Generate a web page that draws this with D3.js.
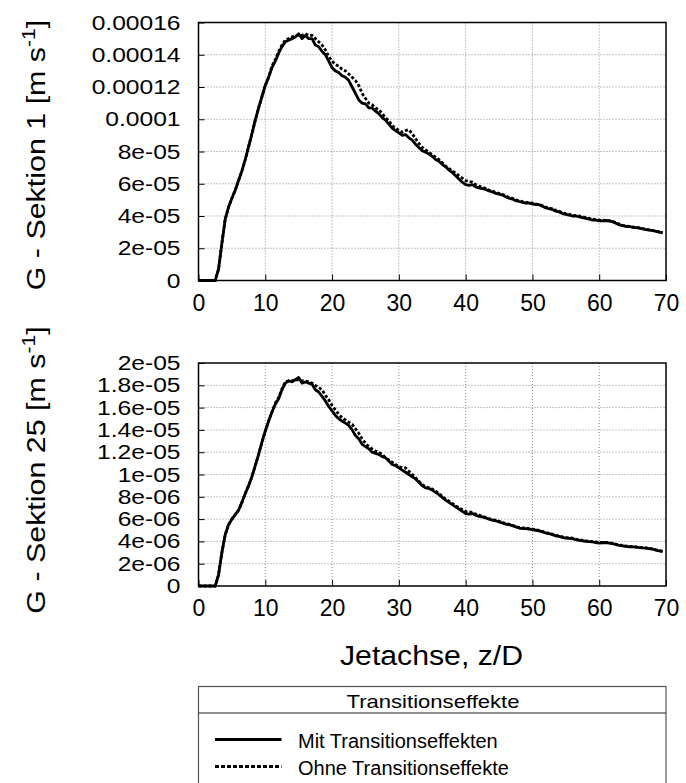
<!DOCTYPE html>
<html>
<head>
<meta charset="utf-8">
<script src="https://cdn.jsdelivr.net/npm/d3@7"></script>
<style>
  body { margin: 0; background: #fff; }
  text { font-family: "Liberation Sans", Arial, sans-serif; fill: #000; }
</style>
</head>
<body>
<svg id="chart" width="686" height="783"></svg>
<script>
// z/D Stuetzstellen, Schritt 0.5
var zD = d3.range(0, 70, 0.5);

// Sektion 1, Werte in 1e-5 m/s
var sek1Mit = [
  0, 0, 0, 0, 0, 0, 0.7, 2.3, 3.8, 4.55, 5.1, 5.6, 6.2, 6.8, 7.5, 8.3, 9.1, 9.95, 10.7, 11.4,
  12.1, 12.6, 13.2, 13.6, 14.1, 14.5, 14.8, 14.9, 15.0, 15.1, 15.3, 15.0, 15.2, 15.0, 15.0, 14.6, 14.5, 14.2, 14.0, 13.6,
  13.2, 13.0, 12.9, 12.7, 12.6, 12.4, 12.0, 11.6, 11.2, 11.0, 10.95, 10.7, 10.7, 10.5, 10.35, 10.1, 9.95, 9.7, 9.45, 9.3,
  9.15, 9.0, 9.05, 8.85, 8.7, 8.45, 8.25, 8.05, 7.95, 7.85, 7.7, 7.5, 7.4, 7.2, 7.05, 6.85, 6.7, 6.5, 6.3, 6.1,
  5.95, 5.9, 5.95, 5.8, 5.75, 5.7, 5.65, 5.55, 5.5, 5.4, 5.35, 5.3, 5.2, 5.1, 5.05, 4.95, 4.9, 4.85, 4.8, 4.8,
  4.75, 4.7, 4.7, 4.6, 4.5, 4.45, 4.4, 4.3, 4.25, 4.15, 4.1, 4.05, 4.0, 4.0, 3.95, 3.9, 3.85, 3.8, 3.75, 3.75,
  3.7, 3.7, 3.72, 3.7, 3.65, 3.55, 3.45, 3.4, 3.35, 3.35, 3.3, 3.28, 3.25, 3.2, 3.15, 3.12, 3.1, 3.05, 3.0, 2.95];
var sek1Ohne = [
  0, 0, 0, 0, 0, 0, 0.7, 2.3, 3.8, 4.55, 5.1, 5.6, 6.2, 6.8, 7.5, 8.3, 9.1, 9.95, 10.7, 11.4,
  12.1, 12.6, 13.3, 13.7, 14.2, 14.6, 14.9, 15.0, 15.1, 15.2, 15.2, 15.2, 15.3, 15.2, 15.2, 15.0, 14.8, 14.6, 14.3, 13.9,
  13.6, 13.4, 13.3, 13.1, 13.0, 12.8, 12.6, 12.4, 12.1, 11.6, 11.3, 11.0, 10.9, 10.7, 10.6, 10.35, 10.1, 9.9, 9.6, 9.45,
  9.3, 9.2, 9.3, 9.35, 9.1, 8.8, 8.5, 8.25, 8.1, 7.95, 7.8, 7.65, 7.5, 7.3, 7.1, 6.95, 6.8, 6.65, 6.5, 6.35,
  6.2, 6.15, 6.1, 5.95, 5.85, 5.8, 5.7, 5.6, 5.55, 5.45, 5.4, 5.35, 5.25, 5.15, 5.1, 5.0, 4.95, 4.9, 4.85, 4.85,
  4.8, 4.75, 4.72, 4.65, 4.55, 4.5, 4.45, 4.35, 4.3, 4.2, 4.15, 4.1, 4.05, 4.02, 4.0, 3.95, 3.9, 3.85, 3.8, 3.78,
  3.75, 3.72, 3.72, 3.7, 3.65, 3.6, 3.5, 3.42, 3.38, 3.36, 3.32, 3.3, 3.26, 3.22, 3.18, 3.14, 3.1, 3.06, 3.02, 2.97];

// Sektion 25, Werte in 1e-6 m/s
var sek25Mit = [
  0, 0, 0, 0, 0, 0, 1.0, 3.0, 4.6, 5.5, 6.0, 6.4, 6.8, 7.5, 8.3, 9.0, 9.8, 10.8, 11.8, 12.9,
  13.9, 14.8, 15.6, 16.3, 16.8, 17.6, 18.2, 18.4, 18.3, 18.5, 18.7, 18.2, 18.3, 18.2, 18.1, 17.6, 17.4, 17.0, 16.6, 16.1,
  15.7, 15.3, 15.0, 14.8, 14.6, 14.4, 14.0, 13.5, 13.2, 12.7, 12.5, 12.3, 12.0, 11.9, 11.8, 11.6, 11.5, 11.2, 10.9, 10.8,
  10.6, 10.4, 10.2, 10.0, 9.8, 9.6, 9.3, 9.0, 8.8, 8.75, 8.6, 8.4, 8.2, 7.95, 7.7, 7.5, 7.3, 7.1, 6.9, 6.7,
  6.5, 6.45, 6.5, 6.35, 6.25, 6.2, 6.1, 6.0, 5.9, 5.85, 5.75, 5.65, 5.55, 5.5, 5.4, 5.3, 5.2, 5.15, 5.15, 5.1,
  5.05, 5.0, 4.95, 4.85, 4.75, 4.7, 4.6, 4.5, 4.45, 4.35, 4.3, 4.28, 4.25, 4.15, 4.1, 4.05, 4.0, 3.98, 3.95, 3.9,
  3.85, 3.88, 3.9, 3.85, 3.8, 3.72, 3.65, 3.6, 3.55, 3.52, 3.5, 3.48, 3.45, 3.42, 3.4, 3.35, 3.3, 3.22, 3.15, 3.08];
var sek25Ohne = [
  0, 0, 0, 0, 0, 0, 1.0, 3.0, 4.6, 5.5, 6.0, 6.4, 6.8, 7.5, 8.3, 9.0, 9.8, 10.8, 11.8, 12.9,
  13.9, 14.8, 15.6, 16.4, 16.9, 17.7, 18.3, 18.4, 18.4, 18.5, 18.5, 18.4, 18.4, 18.3, 18.2, 18.0, 17.8, 17.6, 17.1, 16.7,
  16.2, 15.8, 15.4, 15.1, 14.9, 14.7, 14.5, 14.1, 13.7, 13.2, 12.8, 12.5, 12.3, 12.1, 12.0, 11.8, 11.5, 11.3, 11.1, 10.9,
  10.7, 10.6, 10.6, 10.3, 10.0, 9.7, 9.4, 9.1, 8.9, 8.8, 8.7, 8.5, 8.3, 8.05, 7.8, 7.6, 7.4, 7.2, 7.0, 6.85,
  6.7, 6.65, 6.6, 6.45, 6.35, 6.25, 6.15, 6.05, 5.95, 5.9, 5.8, 5.7, 5.6, 5.55, 5.45, 5.35, 5.25, 5.2, 5.2, 5.15,
  5.1, 5.05, 5.0, 4.9, 4.8, 4.72, 4.65, 4.55, 4.5, 4.4, 4.35, 4.32, 4.3, 4.2, 4.15, 4.1, 4.05, 4.0, 3.98, 3.95,
  3.9, 3.9, 3.9, 3.87, 3.82, 3.75, 3.7, 3.63, 3.58, 3.55, 3.52, 3.5, 3.47, 3.44, 3.42, 3.38, 3.32, 3.25, 3.18, 3.12];

var xTicks = [0, 10, 20, 30, 40, 50, 60, 70];
var yTicks1 = [0, 2, 4, 6, 8, 10, 12, 14, 16];
var yLabels1 = ['0', '2e-05', '4e-05', '6e-05', '8e-05', '0.0001', '0.00012', '0.00014', '0.00016'];
var yTicks25 = [0, 2, 4, 6, 8, 10, 12, 14, 16, 18, 20];
var yLabels25 = ['0', '2e-06', '4e-06', '6e-06', '8e-06', '1e-05', '1.2e-05', '1.4e-05', '1.6e-05', '1.8e-05', '2e-05'];

var legendTitle = 'Transitionseffekte';
var seriesNames = ['Mit Transitionseffekten', 'Ohne Transitionseffekte'];

var svg = d3.select('#chart');
var left = 198.5, right = 666;

function drawPanel(cfg) {
  var x = d3.scaleLinear().domain([0, 70]).range([left, right]);
  var y = d3.scaleLinear().domain([0, cfg.ymax]).range([cfg.bottom, cfg.top]);
  var g = svg.append('g');

  // Gitter
  g.selectAll('line.gx').data(xTicks.slice(1, -1)).enter().append('line')
    .attr('x1', function (d) { return x(d); }).attr('x2', function (d) { return x(d); })
    .attr('y1', cfg.top).attr('y2', cfg.bottom)
    .attr('stroke', '#8a8a8a').attr('stroke-width', 1).attr('stroke-dasharray', '1,2');
  g.selectAll('line.gy').data(cfg.yTicks.slice(1, -1)).enter().append('line')
    .attr('x1', left).attr('x2', right)
    .attr('y1', function (d) { return y(d); }).attr('y2', function (d) { return y(d); })
    .attr('stroke', '#8a8a8a').attr('stroke-width', 1).attr('stroke-dasharray', '1,2');

  // Achsen
  var ax = g.append('g').attr('transform', 'translate(0,' + cfg.bottom + ')')
    .call(d3.axisBottom(x).tickValues(xTicks).tickSize(-6).tickPadding(14).tickFormat(d3.format('d')));
  ax.select('.domain').remove();
  ax.selectAll('text').attr('font-size', 23).attr('font-family', '"Liberation Sans", Arial, sans-serif');
  ax.selectAll('line').attr('stroke', '#000');

  var ay = g.append('g').attr('transform', 'translate(' + left + ',0)')
    .call(d3.axisLeft(y).tickValues(cfg.yTicks).tickSize(-6).tickPadding(15)
      .tickFormat(function (d, i) { return cfg.yLabels[i]; }));
  ay.select('.domain').remove();
  ay.selectAll('text').attr('font-size', 20.5).attr('font-family', '"Liberation Sans", Arial, sans-serif')
    .attr('x', -15).attr('transform', 'scale(1.2,1)');
  ay.selectAll('line').attr('stroke', '#000');

  // Kurven
  var line = d3.line()
    .x(function (d, i) { return x(zD[i]); })
    .y(function (d) { return y(d); });
  g.append('path').datum(cfg.ohne).attr('d', line)
    .attr('fill', 'none').attr('stroke', '#000').attr('stroke-width', 2.8)
    .attr('stroke-dasharray', '3,2');
  g.append('path').datum(cfg.mit).attr('d', line)
    .attr('fill', 'none').attr('stroke', '#000').attr('stroke-width', 2.8)
    .attr('stroke-linejoin', 'round');

  // Rahmen
  g.append('rect').attr('x', left).attr('y', cfg.top)
    .attr('width', right - left).attr('height', cfg.bottom - cfg.top)
    .attr('fill', 'none').attr('stroke', '#000').attr('stroke-width', 1.5);

  // y-Titel
  var t = svg.append('text')
    .attr('transform', 'translate(45,' + cfg.titleY + ') rotate(-90) scale(1.17,1)')
    .attr('text-anchor', 'middle').attr('font-size', 26);
  t.append('tspan').text(cfg.title + ' [m s');
  t.append('tspan').attr('dy', -10).attr('font-size', 18).text('-1');
  t.append('tspan').attr('dy', 10).text(']');
}

drawPanel({top: 22.5, bottom: 280.5, ymax: 16, yTicks: yTicks1, yLabels: yLabels1,
  mit: sek1Mit, ohne: sek1Ohne, title: 'G - Sektion 1', titleY: 155});
drawPanel({top: 363, bottom: 586, ymax: 20, yTicks: yTicks25, yLabels: yLabels25,
  mit: sek25Mit, ohne: sek25Ohne, title: 'G - Sektion 25', titleY: 470});

// x-Titel
svg.append('text').attr('x', 431.5).attr('y', 665).attr('text-anchor', 'middle')
  .attr('font-size', 27).attr('textLength', 183).attr('lengthAdjust', 'spacingAndGlyphs')
  .text('Jetachse, z/D');

// Legende
var lg = svg.append('g');
lg.append('rect').attr('x', left).attr('y', 686.5).attr('width', right - left).attr('height', 110)
  .attr('fill', 'none').attr('stroke', '#555').attr('stroke-width', 1.2);
lg.append('line').attr('x1', left).attr('x2', right).attr('y1', 713).attr('y2', 713)
  .attr('stroke', '#222').attr('stroke-width', 1.2);
lg.append('text').attr('x', 433).attr('y', 707.5).attr('text-anchor', 'middle')
  .attr('font-size', 19).attr('textLength', 173).attr('lengthAdjust', 'spacingAndGlyphs')
  .text(legendTitle);
var rows = lg.selectAll('g.row').data(seriesNames).enter().append('g')
  .attr('transform', function (d, i) { return 'translate(0,' + (739.5 + i * 27) + ')'; });
rows.append('line').attr('x1', 215).attr('x2', 281.5).attr('y1', 0).attr('y2', 0)
  .attr('stroke', '#000').attr('stroke-width', 3)
  .attr('stroke-dasharray', function (d, i) { return i ? '4,2' : null; });
rows.append('text').attr('x', 298).attr('y', 8).attr('font-size', 20).text(function (d) { return d; });
</script>
</body>
</html>
